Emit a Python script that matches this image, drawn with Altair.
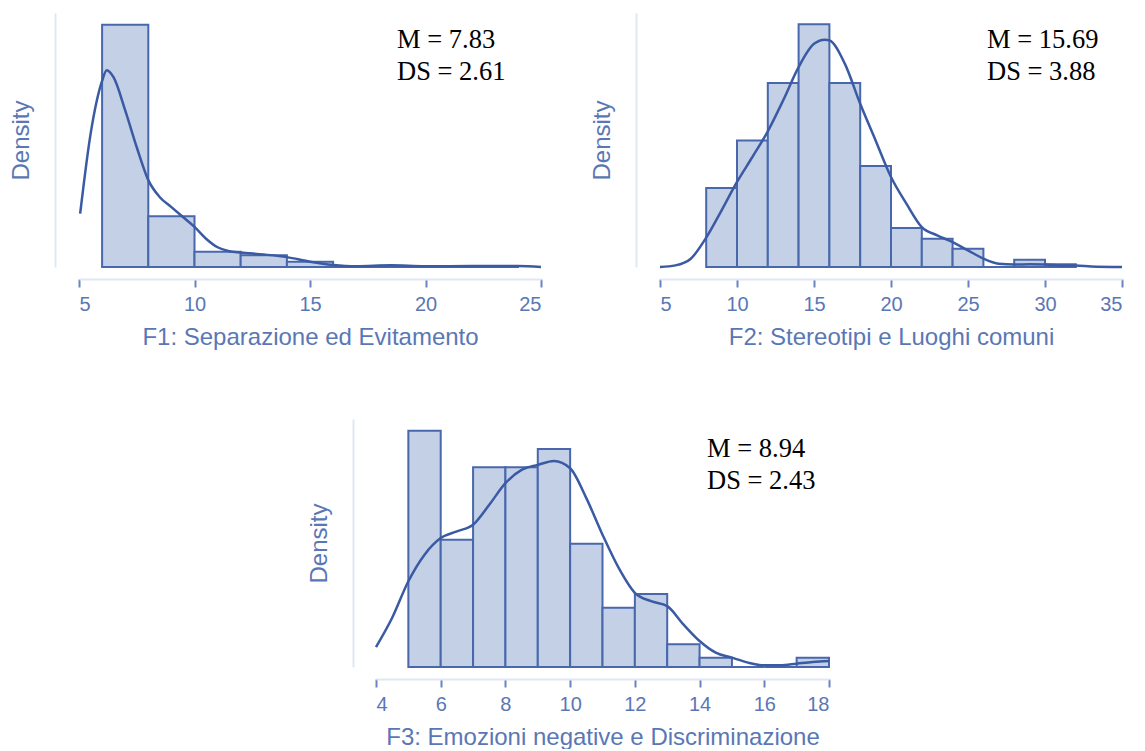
import altair as alt
import pandas as pd

# ---------------- data (density units) ----------------
titles = ["F1: Separazione ed Evitamento",
          "F2: Stereotipi e Luoghi comuni",
          "F3: Emozioni negative e Discriminazione"]
means = [7.83, 15.69, 8.94]
sds = [2.61, 3.88, 2.43]

f1_lo = [6, 8, 10, 12, 14, 16, 18, 20, 22]
f1_hi = [8, 10, 12, 14, 16, 18, 20, 22, 24]
f1_density = [0.368, 0.077, 0.023, 0.018, 0.008, 0.0015, 0.0015, 0.001, 0.001]
f1_curve_x = [5.05, 5.5, 6.0, 6.2, 6.5, 7, 7.5, 8, 8.5, 9, 9.5, 10, 10.5, 11,
              11.5, 12, 13, 14, 15, 16, 17, 18.5, 20, 22, 24, 25]
f1_curve_y = [0.081, 0.202, 0.283, 0.299, 0.288, 0.238, 0.182, 0.132, 0.106,
              0.091, 0.076, 0.061, 0.043, 0.030, 0.024, 0.022, 0.019, 0.015,
              0.008, 0.003, 0.001, 0.0025, 0.001, 0.0015, 0.0015, 0.0]
f1_ticks = [5, 10, 15, 20, 25]

f2_lo = [8, 10, 12, 14, 16, 18, 20, 22, 24, 26, 28, 30]
f2_hi = [10, 12, 14, 16, 18, 20, 22, 24, 26, 28, 30, 32]
f2_density = [0.0390, 0.0625, 0.0908, 0.1198, 0.0908, 0.0499, 0.0193, 0.0140,
              0.0090, 0.0, 0.0036, 0.0013]
f2_curve_x = [5, 6, 7, 8, 9, 10, 11, 12, 13, 14, 15, 15.7, 16, 17, 18, 19, 20,
              21, 22, 23, 24, 25, 26, 27, 28, 29, 30, 31, 32, 33, 35]
f2_curve_y = [0.0, 0.0008, 0.0041, 0.0145, 0.0280, 0.0420, 0.0543, 0.0670,
              0.0823, 0.0987, 0.1102, 0.1122, 0.1119, 0.1004, 0.0806, 0.0625,
              0.0444, 0.0313, 0.0197, 0.0156, 0.0123, 0.0082, 0.0041, 0.0016,
              0.0012, 0.0013, 0.0012, 0.0008, 0.0007, 0.0003, 0.0]
f2_ticks = [5, 10, 15, 20, 25, 30, 35]

f3_lo = [5, 6, 7, 8, 9, 10, 11, 12, 13, 14, 15, 16, 17]
f3_hi = [6, 7, 8, 9, 10, 11, 12, 13, 14, 15, 16, 17, 18]
f3_density = [0.1849, 0.0996, 0.1563, 0.1563, 0.1706, 0.0965, 0.0463, 0.0572,
              0.0177, 0.0073, 0.0, 0.0, 0.0073]
f3_curve_x = [4, 4.5, 5, 5.5, 6, 6.5, 7, 7.5, 8, 8.5, 9, 9.5, 10, 10.5, 11,
              11.5, 12, 12.5, 13, 13.5, 14, 14.5, 15, 15.5, 16, 16.5, 17, 17.5, 18]
f3_curve_y = [0.0156, 0.0385, 0.0671, 0.0879, 0.1009, 0.1061, 0.1113, 0.1269,
              0.1438, 0.1542, 0.1581, 0.1612, 0.1555, 0.1321, 0.1035, 0.0775,
              0.0580, 0.0515, 0.0476, 0.0333, 0.0203, 0.0112, 0.0073, 0.0034,
              0.0013, 0.0013, 0.0026, 0.0039, 0.0047]
f3_ticks = [4, 6, 8, 10, 12, 14, 16, 18]

# ---------------- style ----------------
BAR_FILL = "#c4d0e6"
BAR_STROKE = "#4867ad"
CURVE = "#3b5aa4"
AXIS_TEXT = "#5a77b5"
DOMAIN = "#e0e6f2"
TICK = "#6a84bf"
SANS = "Liberation Sans"
SERIF = "Liberation Serif"


def panel(lo, hi, dens, cx, cy, ticks, ymax, title, mean, sd,
          width, height, yoffset, tx, ty):
    xdom = [ticks[0], ticks[-1]]
    xs = alt.Scale(domain=xdom, nice=False, zero=False)
    ys = alt.Scale(domain=[0, ymax], nice=False, zero=True)
    xaxis = alt.Axis(values=ticks, offset=12, grid=False,
                     domainColor=DOMAIN, domainWidth=2,
                     tickColor=TICK, tickWidth=2, tickSize=8,
                     labelColor=AXIS_TEXT, labelFont=SANS, labelFontSize=20,
                     labelPadding=7, titleColor=AXIS_TEXT, titleFont=SANS,
                     titleFontSize=24, titleFontWeight="normal",
                     titlePadding=11)
    yaxis = alt.Axis(labels=False, ticks=False, grid=False, offset=yoffset,
                     domainColor=DOMAIN, domainWidth=2,
                     titleColor=AXIS_TEXT, titleFont=SANS, titleFontSize=24,
                     titleFontWeight="normal", titlePadding=22)
    bars_df = pd.DataFrame({"lo": lo, "hi": hi, "d": dens})
    curve_df = pd.DataFrame({"x": cx, "y": cy})
    text_df = pd.DataFrame({"t": [f"M = {mean:.2f}\nDS = {sd:.2f}"]})

    bars = alt.Chart(bars_df).mark_rect(
        fill=BAR_FILL, stroke=BAR_STROKE, strokeWidth=2
    ).encode(
        x=alt.X("lo:Q", scale=xs, axis=xaxis, title=title),
        x2="hi:Q",
        y=alt.Y("d:Q", scale=ys, axis=yaxis, title="Density"),
        y2=alt.datum(0),
    )
    curve = alt.Chart(curve_df).mark_line(
        color=CURVE, strokeWidth=2.5, interpolate="monotone"
    ).encode(x="x:Q", y="y:Q")
    text = alt.Chart(text_df).mark_text(
        align="left", baseline="alphabetic", font=SERIF, fontSize=26.5,
        lineBreak="\n", lineHeight=32, color="black"
    ).encode(text="t:N", x=alt.value(tx), y=alt.value(ty))
    return alt.layer(bars, curve, text).properties(width=width, height=height)


p1 = panel(f1_lo, f1_hi, f1_density, f1_curve_x, f1_curve_y, f1_ticks, 0.386,
           titles[0], means[0], sds[0], 462, 254, 24, 318, 35)
p2 = panel(f2_lo, f2_hi, f2_density, f2_curve_x, f2_curve_y, f2_ticks, 0.1254,
           titles[1], means[1], sds[1], 462, 254, 24, 327, 35)
p3 = panel(f3_lo, f3_hi, f3_density, f3_curve_x, f3_curve_y, f3_ticks, 0.194,
           titles[2], means[2], sds[2], 453, 248, 23, 331, 38)

spacer = alt.Chart(pd.DataFrame({"v": [0]})).mark_rule(opacity=0).encode(
    x=alt.value(0), y=alt.value(0), y2=alt.value(1)
).properties(width=228, height=1)

top = alt.hconcat(p1, p2, spacing=44)
bottom = alt.hconcat(spacer, p3, spacing=0)

chart = alt.vconcat(top, bottom, spacing=70).properties(
    padding={"left": 9, "top": 13, "right": 0, "bottom": 0},
    background="white",
).configure_view(stroke=None)

chart.save("out.html", embed_options={"renderer": "svg", "actions": False})
